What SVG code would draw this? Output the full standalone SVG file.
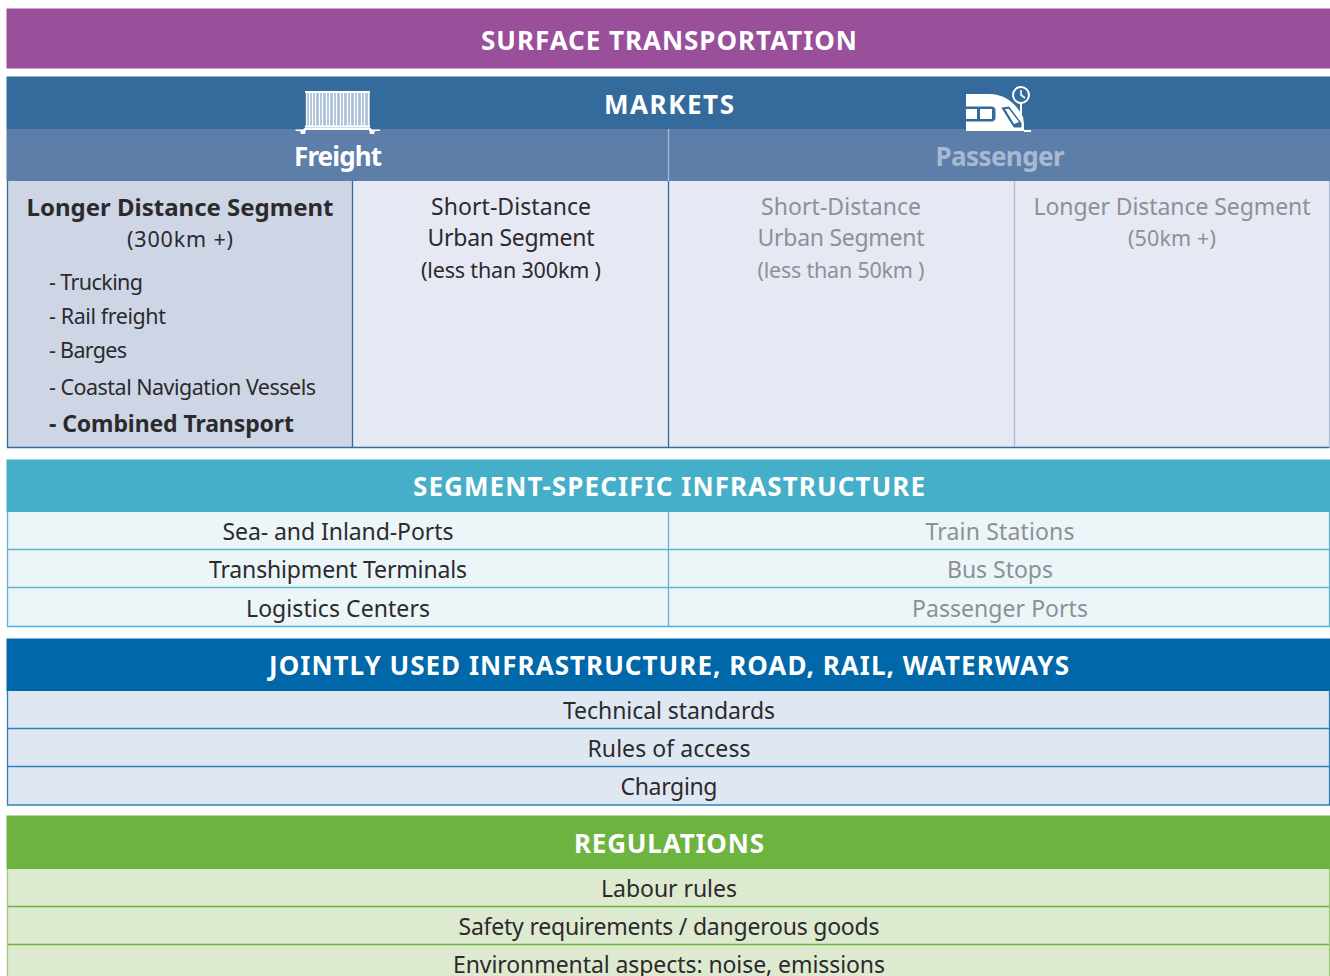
<svg xmlns="http://www.w3.org/2000/svg" width="1330" height="976" viewBox="0 0 1330 976">
<style>
text{font-family:"Noto Sans","Liberation Sans",sans-serif;font-size:23px;fill:#2b2a2d;text-anchor:middle}
.h{font-weight:700;font-size:26px;fill:#fff}
.g{fill:#8d9096}
.s{font-size:21.5px}
.l{text-anchor:start;font-size:21.5px}
.b{font-weight:700}
.p{fill:#a9b9d2}
.ln{stroke-width:1.3;fill:none}
</style>
<rect width="1330" height="976" fill="#fff"/>
<g id="surface-transportation">
<rect x="6.500" y="8.500" width="1323.500" height="60" fill="#9a4f9a"/>
<text class="h" x="669" y="50" textLength="376">SURFACE TRANSPORTATION</text>
</g>
<g id="markets">
<rect x="6.500" y="76.500" width="1323.500" height="52.500" fill="#356b9c"/>
<text class="h" x="669" y="114" textLength="130">MARKETS</text>
</g>
<g id="freight-header">
<rect x="6.500" y="129" width="662" height="52" fill="#5d7ea9"/>
<text class="h" x="338" y="166" textLength="88">Freight</text>
</g>
<g id="passenger-header">
<rect x="668.500" y="129" width="661.500" height="52" fill="#5d7ea9"/>
<text class="h p" x="1000" y="166" textLength="129">Passenger</text>
</g>
<g id="container-icon">
<rect x="306" y="92" width="64" height="35" fill="#a9c0d6"/>
<path d="M306.500 92V127M309.500 92V127M312.500 92V127M315.500 92V127M319.500 92V127M322.500 92V127M326.500 92V127M329.500 92V127M333.500 92V127M336.500 92V127M340.500 92V127M343.500 92V127M347.500 92V127M350.500 92V127M354.500 92V127M357.500 92V127M361.500 92V127M364.500 92V127M368.500 92V127" stroke="#fff" stroke-width="1.300" fill="none"/>
<path d="M305 92H370M305 126.500H370" stroke="#fff" stroke-width="2" fill="none"/>
<path d="M305 127.500H370L372 129.500H380V131H375L374 134H370L369 130H306L305 134H301L300 131H295.500V129.500H303Z" fill="#fff"/>
</g>
<g id="train-icon">
<path d="M966 94H989C1004 94 1015 102 1023 117L1024 124V131H966Z" fill="#fff"/>
<path d="M966 107H992C995 107 995 109 995 111V117C995 120 994 121 992 121H966M979 107V121M1002 108L1009 107L1021 123V127L1014 127Z" fill="#356b9c" stroke="#356b9c" stroke-width="1"/>
<path d="M966 109H977V119H966ZM980 109H992V119H980ZM1005 109L1009 109L1019 122L1014 124Z" fill="#fff"/>
<rect x="1024" y="130" width="7" height="2" fill="#fff"/>
<circle cx="1021" cy="95" r="8" fill="none" stroke="#fff" stroke-width="2"/>
<path d="M1021 90V95L1025 98" fill="none" stroke="#fff" stroke-width="1.600"/>
<path d="M1021 103V116" stroke="#fff" stroke-width="2"/>
</g>
<g id="freight-long">
<rect x="7.500" y="181" width="345" height="266" fill="#ced6e6"/>
<text class="b" x="180" y="216" textLength="307" style="font-size:24px">Longer Distance Segment</text>
<text class="s" x="180" y="247" textLength="106">(300km +)</text>
<text class="l" x="49" y="290" textLength="94">- Trucking</text>
<text class="l" x="49" y="324" textLength="117">- Rail freight</text>
<text class="l" x="49" y="358" textLength="78">- Barges</text>
<text class="l" x="49" y="395" textLength="267">- Coastal Navigation Vessels</text>
<text class="l b" x="49" y="432" textLength="245" style="font-size:23px">- Combined Transport</text>
</g>
<g id="freight-short">
<rect x="353" y="181" width="316" height="266" fill="#e6e9f3"/>
<text x="511" y="215" textLength="160">Short-Distance</text>
<text x="511" y="246" textLength="167">Urban Segment</text>
<text class="s" x="511" y="278" textLength="180">(less than 300km )</text>
</g>
<g id="passenger-short">
<rect x="669" y="181" width="345" height="266" fill="#e6e9f3"/>
<text class="g" x="841" y="215" textLength="160">Short-Distance</text>
<text class="g" x="841" y="246" textLength="167">Urban Segment</text>
<text class="g s" x="841" y="278" textLength="167">(less than 50km )</text>
</g>
<g id="passenger-long">
<rect x="1014" y="181" width="316" height="266" fill="#e6e9f3"/>
<text class="g" x="1172" y="215" textLength="277">Longer Distance Segment</text>
<text class="g s" x="1172" y="246" textLength="88">(50km +)</text>
</g>
<g id="segment-infrastructure">
<rect x="6.500" y="459.500" width="1323.500" height="52.500" fill="#45aec8"/>
<rect x="7" y="512" width="1323" height="114" fill="#ecf5f8"/>
<text class="h" x="669" y="496" textLength="512">SEGMENT-SPECIFIC INFRASTRUCTURE</text>
<text x="338" y="540" textLength="231">Sea- and Inland-Ports</text>
<text x="338" y="578" textLength="258">Transhipment Terminals</text>
<text x="338" y="617" textLength="184">Logistics Centers</text>
<text class="g" x="1000" y="540" textLength="149">Train Stations</text>
<text class="g" x="1000" y="578" textLength="106">Bus Stops</text>
<text class="g" x="1000" y="617" textLength="176">Passenger Ports</text>
</g>
<g id="jointly-used">
<rect x="6.500" y="638.500" width="1323.500" height="52.500" fill="#0067a9"/>
<rect x="7" y="691" width="1323" height="114" fill="#dfe8f2"/>
<text class="h" x="669" y="675" textLength="800">JOINTLY USED INFRASTRUCTURE, ROAD, RAIL, WATERWAYS</text>
<text x="669" y="719" textLength="212">Technical standards</text>
<text x="669" y="757" textLength="163">Rules of access</text>
<text x="669" y="795" textLength="97">Charging</text>
</g>
<g id="regulations">
<rect x="6.500" y="815.500" width="1323.500" height="53.500" fill="#6db33f"/>
<rect x="7" y="869" width="1323" height="107" fill="#deead0"/>
<text class="h" x="669" y="853" textLength="190">REGULATIONS</text>
<text x="669" y="897" textLength="136">Labour rules</text>
<text x="669" y="935" textLength="421">Safety requirements / dangerous goods</text>
<text x="669" y="973" textLength="432">Environmental aspects: noise, emissions</text>
</g>
<g id="connectors">
<g class="ln" stroke="#356b9c">
<path d="M7.500 181V447.500H1329.500M352.500 181V447M668.500 181V447"/>
<path d="M1014.500 181V447M1329.500 181V447M668.500 129V181" stroke="#a9bcd4"/>
</g>
<g class="ln" stroke="#5fb5cd">
<path d="M7.500 512V626M1329.500 512V626M668.500 512V626M7 549.500H1330M7 587.500H1330"/>
<path d="M7 626.500H1330" stroke="#3fb8df"/>
</g>
<g class="ln" stroke="#2e80bb">
<path d="M7.500 691V805H1329.500V691M7 728.500H1330M7 766.500H1330"/>
</g>
<g class="ln" stroke="#6db33f">
<path d="M7 906.500H1330M7 944.500H1330"/>
<path d="M7.500 869V976M1329.500 869V976" stroke="#9cc878"/>
</g>
</g>
</svg>
